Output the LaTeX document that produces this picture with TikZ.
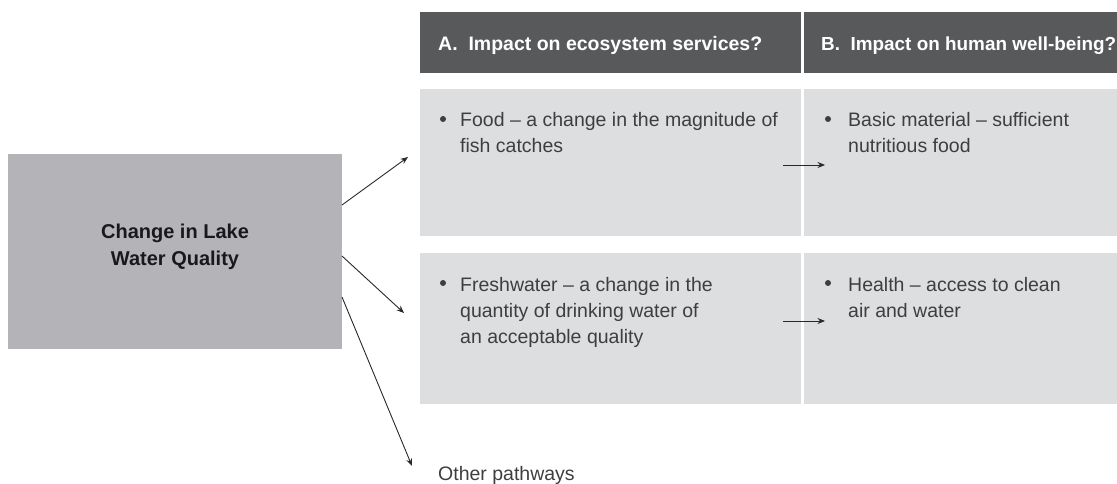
\documentclass[tikz,border=0pt]{standalone}
\usepackage{fontspec}
\setmainfont{Liberation Sans}
\usetikzlibrary{arrows.meta}
\definecolor{boxgray}{RGB}{180,180,184}
\definecolor{hdrgray}{RGB}{88,89,91}
\definecolor{cellgray}{RGB}{221,222,224}
\definecolor{txtgray}{RGB}{62,62,64}
\definecolor{arrgray}{RGB}{40,40,42}
\begin{document}
\begin{tikzpicture}[x=1pt,y=-1pt,
  panel/.style={draw=none, anchor=north west, inner sep=0, outer sep=0},
  cell/.style={panel, fill=cellgray},
  hdr/.style={panel, fill=hdrgray},
  hdrtext/.style={anchor=base west, inner sep=0, text=white, font=\fontsize{19.5}{26}\selectfont\bfseries},
  bodytext/.style={anchor=base west, inner sep=0, align=left, text=txtgray, font=\fontsize{19.5}{26}\selectfont},
  bul/.style={circle, fill=txtgray, inner sep=0, minimum size=6pt},
  arr/.style={draw=arrgray, line width=0.9pt, -{Stealth[length=7.5pt,width=6pt]}}
]
\useasboundingbox (0,0) rectangle (1117,484);
% left box
\node[panel, fill=boxgray, minimum width=334pt, minimum height=195pt] (lb) at (8,154) {};
\node[anchor=base, inner sep=0, align=center, text={rgb,255:red,25;green,25;blue,28}, font=\fontsize{20}{27}\selectfont\bfseries] (lbt) at (175,265) {Change in Lake\\Water Quality};
% headers
\node[hdr, minimum width=381pt, minimum height=61pt] (ha) at (420,12) {};
\node[hdr, minimum width=316pt, minimum height=61pt] (hb) at (804,12) {};
\node[hdrtext] (hat) at (438,51) {A.~ Impact on ecosystem services?};
\node[hdrtext, font=\fontsize{18.9}{26}\selectfont\bfseries] (hbt) at (821,51) {B.~ Impact on human well-being?};
% cells
\node[cell, minimum width=381pt, minimum height=147pt] (r1a) at (420,89) {};
\node[cell, minimum width=316pt, minimum height=147pt] (r1b) at (804,89) {};
\node[cell, minimum width=381pt, minimum height=151pt] (r2a) at (420,253) {};
\node[cell, minimum width=316pt, minimum height=151pt] (r2b) at (804,253) {};
% bullets and texts (base anchor = last line's baseline)
\node[bul] (b1a) at (443,119) {};
\node[bodytext] (t1a) at (460,153) {Food – a change in the magnitude of\\fish catches};
\node[bul] (b1b) at (828,119) {};
\node[bodytext] (t1b) at (848,153) {Basic material – sufficient\\nutritious food};
\node[bul] (b2a) at (443,283) {};
\node[bodytext] (t2a) at (460,343) {Freshwater – a change in the\\quantity of drinking water of\\an acceptable quality};
\node[bul] (b2b) at (828,283) {};
\node[bodytext] (t2b) at (848,317) {Health – access to clean\\air and water};
\node[bodytext] (op) at (438,480) {Other pathways};
% arrow endpoints
\coordinate (s1) at (342,205);
\coordinate (s2) at (342,256);
\coordinate (s3) at (342,297);
\coordinate (e1) at (408,157);
\coordinate (e2) at (404,313);
\coordinate (e3) at (412,466);
\coordinate (m1s) at (783,165);
\coordinate (m1e) at (825,165);
\coordinate (m2s) at (783,321);
\coordinate (m2e) at (825,321);
\draw[arr] (s1) -- (e1);
\draw[arr] (s2) -- (e2);
\draw[arr] (s3) -- (e3);
\draw[arr] (m1s) -- (m1e);
\draw[arr] (m2s) -- (m2e);
\end{tikzpicture}
\end{document}
